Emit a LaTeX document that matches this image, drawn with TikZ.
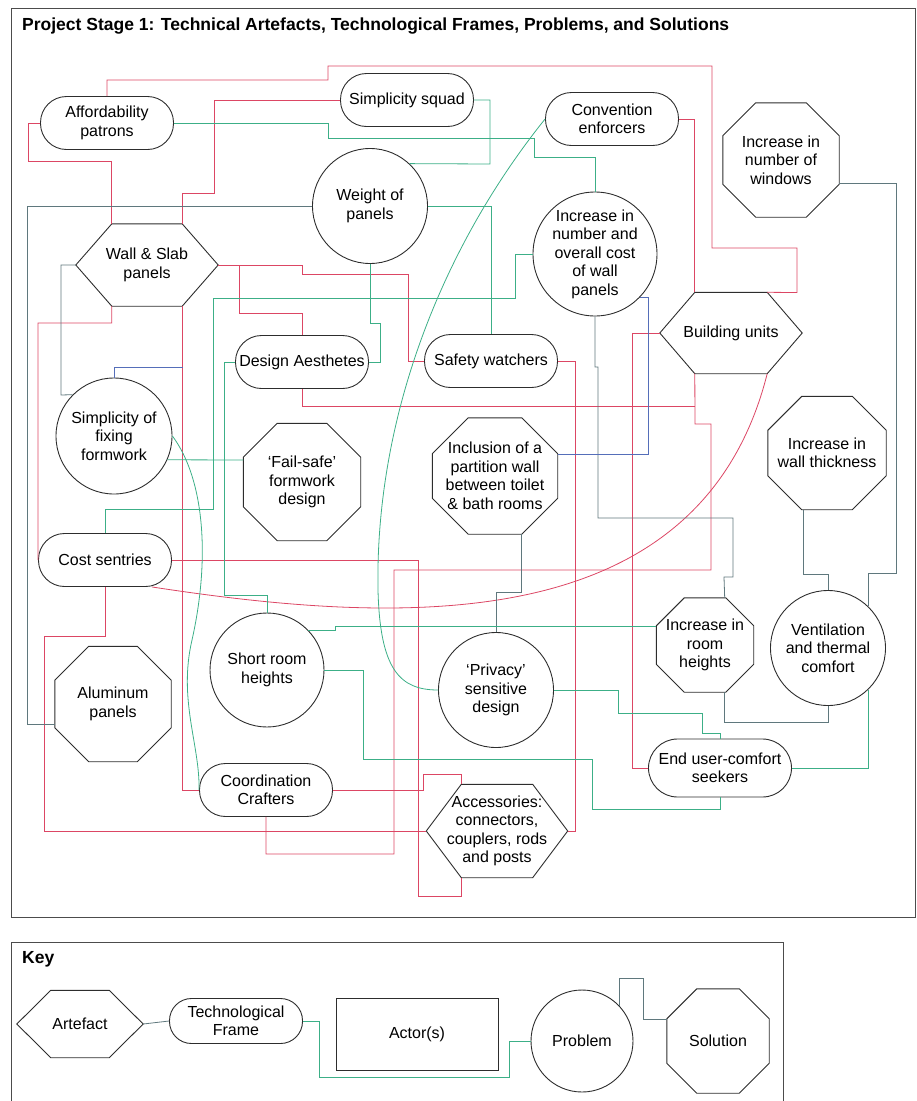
\documentclass[tikz,border=0pt]{standalone}
\usepackage{fontspec}
\setmainfont{Liberation Sans}
\usetikzlibrary{calc}
\definecolor{linkred}{RGB}{220,70,100}
\definecolor{linkgreen}{RGB}{60,175,135}
\definecolor{linkgray}{RGB}{95,120,125}
\definecolor{linkblue}{RGB}{85,110,185}
\definecolor{shapeline}{RGB}{45,45,45}

\begin{document}
\begin{tikzpicture}[x=1pt,y=-1pt,
    every node/.style={font=\fontsize{16}{18.5}\selectfont, align=center, inner sep=0pt},
    frame/.style={draw=shapeline, line width=0.9pt, rounded corners=26pt, minimum width=133pt, minimum height=53pt},
    problem/.style={draw=shapeline, line width=0.9pt, circle, minimum size=#1},
    outline/.style 2 args={minimum width=#1, minimum height=#2},
    redlink/.style={draw=linkred, line width=0.8pt},
    greenlink/.style={draw=linkgreen, line width=0.8pt},
    graylink/.style={draw=linkgray, line width=0.8pt},
    bluelink/.style={draw=linkblue, line width=0.8pt}]
    \useasboundingbox (0,0) rectangle (917,1101);

    % frames
    \draw[shapeline!85, line width=1pt] (11,8) rectangle (915,917);
    \draw[shapeline!85, line width=1pt] (11,942) rectangle (783,1110);
    \node[font=\bfseries\fontsize{17.5}{20}\selectfont, anchor=base west] (title) at (22,30) {Project Stage 1: Technical Artefacts, Technological Frames, Problems, and Solutions};
    \node[font=\bfseries\fontsize{17.5}{20}\selectfont, anchor=base west] (keylbl) at (22,963) {Key};

    % actors, artefacts, problems, solutions
    \node[frame] (aff) at (107,123) {Affordability\\patrons};
    \node[frame] (squad) at (407,100) {Simplicity squad};
    \node[frame] (conv) at (612,119) {Convention\\enforcers};
    \node[problem=115pt] (weight) at (370,206) {Weight of\\panels};
    \node[problem=124pt] (cost) at (595,254) {Increase in\\number and\\overall cost\\of wall\\panels};
    \node[outline={116pt}{114pt}] (win) at (781,160) {Increase in\\number of\\windows};
    \node[outline={142pt}{82pt}] (ws) at (147,265) {Wall \& Slab\\panels};
    \node[outline={142pt}{81pt}] (bu) at (731,333) {Building units};
    \node[frame] (da) at (302,362) {Design Aesthetes};
    \node[frame] (sw) at (491,361) {Safety watchers};
    \node[problem=116pt] (soff) at (114,436) {Simplicity of\\fixing\\formwork};
    \node[outline={117pt}{117pt}] (fs) at (302,482) {`Fail-safe'\\formwork\\design};
    \node[outline={125pt}{116pt}] (incl) at (495,476) {Inclusion of a\\partition wall\\between toilet\\\& bath rooms};
    \node[outline={118pt}{113pt}] (wt) at (827,453) {Increase in\\wall thickness};
    \node[frame] (cs) at (105,560) {Cost sentries};
    \node[problem=114pt] (srh) at (267,670) {Short room\\heights};
    \node[problem=115pt] (priv) at (496,690) {`Privacy'\\sensitive\\design};
    \node[outline={97pt}{94pt}] (irh) at (705,645) {Increase in\\room\\heights};
    \node[problem=115pt] (vent) at (828,648) {Ventilation\\and thermal\\comfort};
    \node[outline={116pt}{115pt}] (alu) at (113,704) {Aluminum\\panels};
    \node[frame] (cc) at (266,790) {Coordination\\Crafters};
    \node[frame, minimum width=143pt, minimum height=58pt, rounded corners=29pt] (eu) at (720,768) {End user-comfort\\seekers};
    \node[outline={141pt}{93pt}] (acc) at (497,831) {Accessories:\\connectors,\\couplers, rods\\and posts};

    % key
    \node[outline={126pt}{67pt}] (art) at (80,1024) {Artefact};
    \node[frame, minimum height=45pt, rounded corners=22pt] (tf) at (236,1021) {Technological\\Frame};
    \node[draw=shapeline, line width=1pt, minimum width=162pt, minimum height=72pt] (act) at (417,1034) {Actor(s)};
    \node[problem=102pt] (prob) at (582,1041) {Problem};
    \node[outline={102pt}{104pt}] (sol) at (718,1041) {Solution};

    % hexagon and octagon outlines
    \foreach \n/\c in {ws/36,bu/35,acc/35,art/34}
        \draw[shapeline, line width=0.9pt] (\n.west) -- ([xshift=\c pt]\n.north west) -- ([xshift=-\c pt]\n.north east) -- (\n.east)
            -- ([xshift=-\c pt]\n.south east) -- ([xshift=\c pt]\n.south west) -- cycle;
    \foreach \n/\c in {win/33,fs/34,incl/36,wt/34,alu/34,irh/28,sol/30}
        \draw[shapeline, line width=0.9pt] ([xshift=\c pt]\n.north west) -- ([xshift=-\c pt]\n.north east) -- ([yshift=-\c pt]\n.north east)
            -- ([yshift=\c pt]\n.south east) -- ([xshift=-\c pt]\n.south east) -- ([xshift=\c pt]\n.south west)
            -- ([yshift=\c pt]\n.south west) -- ([yshift=-\c pt]\n.north west) -- cycle;

    % red links
    \draw[redlink] (aff.north) |- (328,80) |- (712,66) |- (797,248) -- (797,292.5) -- ([xshift=-35pt]bu.north east);
    \draw[redlink] (conv.east) -| ([xshift=35pt]bu.north west);
    \draw[redlink] (squad.west) -| (214,193) -| ([xshift=-36pt]ws.north east);
    \draw[redlink] (aff.west) -| (28,161) -| ([xshift=36pt]ws.north west);
    \draw[redlink] (ws.east) -| (302,274) -| (408,361) -- (sw.west);
    \draw[redlink] (da.north) |- (239,313) |- (ws.east);
    \draw[redlink] ([xshift=36pt]ws.south west) |- (38,323) -- (cs.west);
    \draw[redlink] ([xshift=-36pt]ws.south east) |- (cc.west);
    \draw[redlink] (cs.east) -| (418,896) -| ([xshift=35pt]acc.south west);
    \draw[redlink] (cs.south) |- (44,636) |- (acc.west);
    \draw[redlink] (cc.south) |- (394,854) |- (711,570) |- (695,424) -- ([xshift=35pt]bu.south west);
    \draw[redlink] (da.south) |- (695,406);
    \draw[redlink] (cc.east) -| (423,774) -| ([xshift=35pt]acc.north west);
    \draw[redlink] (sw.east) -| (575,831) -- (acc.east);
    \draw[redlink] (bu.west) -| (632,768) -- (eu.west);
    \draw[redlink] ([xshift=-20pt]cs.south east) .. controls (400,625) and (700,640) .. ([xshift=-35pt]bu.south east);

    % green and grey links
    \coordinate (soffend) at (183,367);
    \draw[greenlink] (aff.east) -| (328,138) -| (534,157) -| (cost.north);
    \draw[greenlink] (squad.east) -| (490,164) -- (weight.47);
    \draw[graylink] (weight.west) -| (27,724) -- ([yshift=-20pt]alu.west);
    \draw[graylink] (ws.west) -| (61,395) -- (soff.135);
    \draw[bluelink] (soff.north) |- (soffend);
    \draw[greenlink] (soff.-24) -- ([yshift=22pt]fs.west);
    \draw[greenlink] (soff.east) .. controls (205,480) and (210,560) .. (192,640) .. controls (178,700) and (200,745) .. (cc.west);
    \draw[greenlink] (da.west) -| (224,595) -| (srh.north);
    \draw[greenlink] (cs.north) |- (213,509) |- (515,298) |- (cost.west);
    \draw[greenlink] (weight.south) |- (380,323) |- (da.east);
    \draw[greenlink] (weight.east) -| (sw.north);
    \draw[graylink] (cost.south) |- (598,367) |- (733,518) |- (724,577) -- ([xshift=-29pt]irh.north east);
    \draw[bluelink] (cost.-44) -| (648,454) -- ([yshift=22pt]incl.east);
    \draw[graylink] ([xshift=26pt]incl.south) |- (496,592) -- (priv.north);
    \draw[greenlink] (srh.44) -| (335,626) -- ([yshift=19pt]irh.west);
    \draw[greenlink] (srh.east) -| (363,759) -| (592,809) -| (eu.south);
    \draw[greenlink] (priv.east) -| (618,713) -| (702,733) -| (eu.north);
    \draw[graylink] ([xshift=-29pt]irh.south east) |- (828,722) -- (vent.south);
    \draw[graylink] ([xshift=-24pt]wt.south) |- (828,574) -- (vent.north);
    \draw[graylink] ([yshift=-23pt]win.east) -| (896,573) -| (vent.46);
    \draw[greenlink] (vent.-46) |- (eu.east);
    \draw[greenlink] (conv.west) .. controls (440,250) and (375,420) .. (378,590) .. controls (380,670) and (400,690) .. (priv.west);

    % key links
    \draw[graylink] (art.east) -- (tf.west);
    \draw[greenlink] (tf.east) -| (319,1077) -| (509,1041) -- (prob.west);
    \draw[graylink] (prob.43) |- (643,978) |- ([yshift=22pt]sol.west);
\end{tikzpicture}
\end{document}
